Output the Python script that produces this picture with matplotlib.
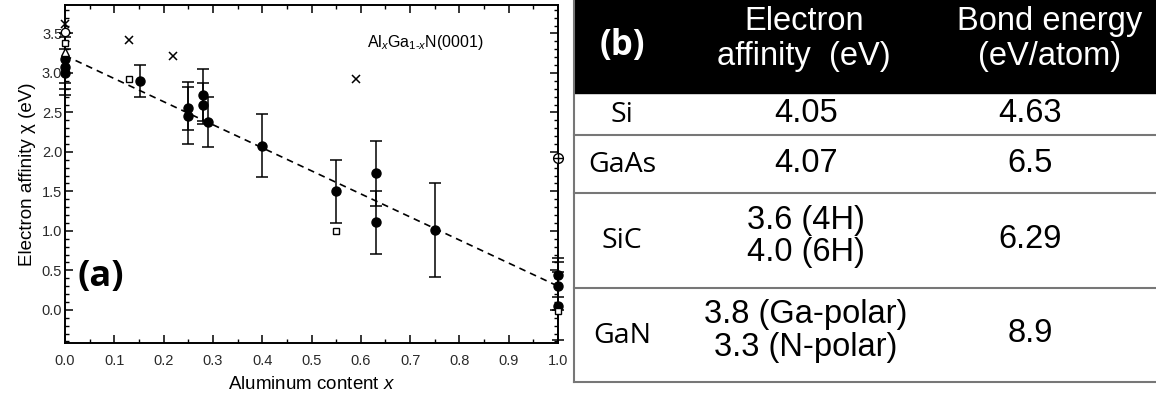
import matplotlib
matplotlib.use("Agg")
import matplotlib.pyplot as plt
from matplotlib.ticker import MultipleLocator, FormatStrFormatter
from matplotlib.patches import Rectangle

plt.rcParams["font.family"] = ["Liberation Sans", "DejaVu Sans"]
plt.rcParams["mathtext.fontset"] = "custom"
plt.rcParams["mathtext.rm"] = "Liberation Sans"
plt.rcParams["mathtext.it"] = "Liberation Sans:italic"

# ---- panel (a): electron affinity of AlGaN vs Al content ----
# filled circles with error bars: x, y, lower error, upper error
fill_x = [0.0, 0.0, 0.0, 0.152, 0.25, 0.25, 0.28, 0.28, 0.29, 0.40, 0.55, 0.63, 0.63, 0.75, 1.0, 1.0, 1.0]
fill_y = [3.18, 3.08, 3.00, 2.90, 2.55, 2.45, 2.72, 2.60, 2.38, 2.08, 1.50, 1.73, 1.11, 1.01, 0.44, 0.30, 0.05]
err_lo = [0.31, 0.28, 0.28, 0.20, 0.27, 0.35, 0.33, 0.25, 0.32, 0.40, 0.40, 0.41, 0.40, 0.60, 0.28, 0.30, 0.43]
err_hi = [0.32, 0.37, 0.30, 0.20, 0.34, 0.37, 0.33, 0.27, 0.32, 0.40, 0.40, 0.41, 0.40, 0.60, 0.22, 0.30, 0.43]

cross_x = [0.0, 0.13, 0.22, 0.59]
cross_y = [3.62, 3.42, 3.22, 2.92]
square_x = [0.0, 0.13, 0.55, 1.0]
square_y = [3.38, 2.92, 1.00, -0.02]
ocircle_x = [0.0]
ocircle_y = [3.52]
triangle_x = [0.0]
triangle_y = [3.27]
cplus_x = [1.0]
cplus_y = [1.92]

fit_x = [0.0, 1.0]
fit_y = [3.22, 0.30]

# ---- panel (b): table ----
headers = ["(b)", "Electron\naffinity  (eV)", "Bond energy\n(eV/atom)"]
materials = ["Si", "GaAs", "SiC", "GaN"]
affinity = ["4.05", "4.07", "3.6 (4H)\n4.0 (6H)", "3.8 (Ga-polar)\n3.3 (N-polar)"]
bond = ["4.63", "6.5", "6.29", "8.9"]

W, H = 1156, 400
fig = plt.figure(figsize=(W / 100, H / 100), dpi=100)

ax = fig.add_axes([65 / W, 57 / H, 493 / W, 338 / H])
ax.errorbar(fill_x, fill_y, yerr=[err_lo, err_hi], fmt="o", color="black",
            markersize=6.5, capsize=4, elinewidth=1.1, capthick=1.1, clip_on=False, zorder=3)
ax.plot(cross_x, cross_y, "x", color="black", markersize=6, mew=1.1, clip_on=False)
ax.plot(square_x, square_y, "s", mfc="white", mec="black", markersize=5, mew=1.0, clip_on=False, zorder=4)
ax.plot(ocircle_x, ocircle_y, "o", mfc="white", mec="black", markersize=6, mew=1.0, clip_on=False, zorder=4)
ax.plot(triangle_x, triangle_y, "^", mfc="white", mec="black", markersize=6, mew=1.0, clip_on=False, zorder=4)
ax.plot(cplus_x, cplus_y, "o", mfc="white", mec="black", markersize=7, mew=1.0, clip_on=False, zorder=4)
ax.plot(cplus_x, cplus_y, "+", color="black", markersize=7, mew=1.0, clip_on=False, zorder=5)
ax.plot(fit_x, fit_y, "--", color="black", linewidth=1.2, dashes=(4, 3))

ax.set_xlim(0, 1.0)
ax.set_ylim(-0.42, 3.86)
ax.xaxis.set_major_locator(MultipleLocator(0.1))
ax.xaxis.set_minor_locator(MultipleLocator(0.05))
ax.yaxis.set_major_locator(MultipleLocator(0.5))
ax.yaxis.set_minor_locator(MultipleLocator(0.1))
ax.tick_params(which="both", direction="in", top=True, right=True, colors="black",
               labelcolor="#2a2a2a", labelsize=10.5)
ax.tick_params(which="major", length=6, width=1.1)
ax.tick_params(which="minor", length=3, width=1.0)
ax.tick_params(axis="x", pad=8)
ax.tick_params(axis="y", pad=2)
ax.xaxis.set_major_formatter(FormatStrFormatter("%.1f"))
ax.yaxis.set_major_formatter(FormatStrFormatter("%.1f"))
for s in ax.spines.values():
    s.set_linewidth(1.4)

ax.set_xlabel("Aluminum content $\\it{x}$", fontsize=13.5, labelpad=6)
ax.set_ylabel("Electron affinity \u03c7 (eV)", fontsize=13.5, labelpad=4)
ax.text(0.732, 3.38, r"Al$_{\mathit{x}}$Ga$_{\mathit{1\text{-}x}}$N(0001)", fontsize=11.5, ha="center", va="center")
ax.text(0.072, 0.42, "(a)", fontsize=26, fontweight="bold", family=["Open Sans", "DejaVu Sans"],
        ha="center", va="center")

# ---- table drawn in figure pixel coordinates ----
tb = fig.add_axes([0, 0, 1, 1])
tb.set_xlim(0, W)
tb.set_ylim(H, 0)
tb.axis("off")
tb.patch.set_visible(False)

left = 574
row_edges = [0, 93, 135, 193, 288, 382]
col_c = [622, 806, 1030]
head_c = [622, 804, 1050]

tb.add_patch(Rectangle((left, row_edges[0]), W - left, row_edges[1] - row_edges[0], color="black"))
tb.plot([left, left], [row_edges[0], row_edges[-1]], color="#777777", lw=1.5)
for e in row_edges[2:]:
    tb.plot([left, W], [e, e], color="#777777", lw=1.5)

tb.text(head_c[0], 46, headers[0], color="white", fontsize=25, fontweight="bold",
        family=["Open Sans", "DejaVu Sans"], ha="center", va="center")
for j in (1, 2):
    tb.text(head_c[j], 39, headers[j], color="white", fontsize=23.5, ha="center", va="center",
            linespacing=1.15)

for i in range(len(materials)):
    yc = (row_edges[i + 1] + row_edges[i + 2]) / 2
    tb.text(col_c[0], yc + 1, materials[i], fontsize=20.5, family=["Open Sans", "DejaVu Sans"],
            ha="center", va="center")
    dy = -4 if "\n" in affinity[i] else -1
    tb.text(col_c[1], yc + dy, affinity[i], fontsize=23.5, ha="center", va="center", linespacing=1.08)
    tb.text(col_c[2], yc - 1, bond[i], fontsize=23.5, ha="center", va="center")

fig.savefig("out.png", dpi=100)
